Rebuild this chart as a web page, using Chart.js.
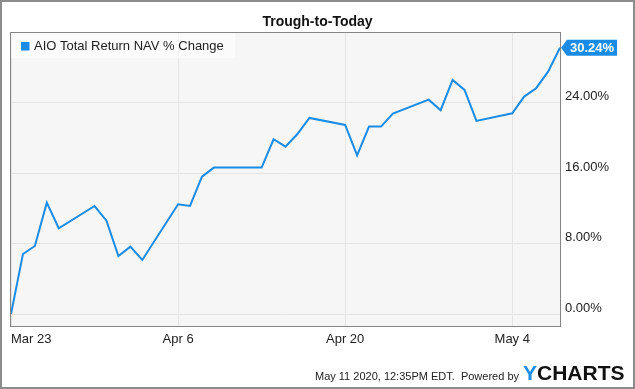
<!DOCTYPE html>
<html>
<head>
<meta charset="utf-8">
<script src="https://cdn.jsdelivr.net/npm/chart.js@4.4.0/dist/chart.umd.min.js"></script>
<style>
  html, body { margin: 0; padding: 0; background: #fff; }
  #wrap { width: 635px; height: 389px; }
</style>
</head>
<body>
<div id="wrap"><canvas id="navChart" width="635" height="389"></canvas></div>
<script>
const chartTitle = 'Trough-to-Today';
const seriesName = 'AIO Total Return NAV % Change';

// trading days, counted in calendar days from Mar 23 2020
const dayOffsets = [0, 1, 2, 3, 4, 7, 8, 9, 10, 11, 14, 15, 16, 17, 21, 22, 23, 24, 25,
                    28, 29, 30, 31, 32, 35, 36, 37, 38, 39, 42, 43, 44, 45, 46];
const navChange = [0, 6.82, 7.73, 12.65, 9.74, 12.27, 10.6, 6.59, 7.65, 6.14, 12.47, 12.27, 15.6, 16.63, 16.63, 19.85, 19.01, 20.45, 22.27,
                   21.48, 18.03, 21.29, 21.29, 22.77, 24.35, 23.15, 26.59, 25.45, 21.93, 22.8, 24.7, 25.65, 27.53, 30.24];

const xTickDays = [0, 14, 28, 42];
const xTickLabels = ['Mar 23', 'Apr 6', 'Apr 20', 'May 4'];
const lastDay = 46;
const yTickValues = [0, 8, 16, 24];
const footerText = 'May 11 2020, 12:35PM EDT.  Powered by';

const FONT = 'Arial, "Liberation Sans", sans-serif';
const lineBlue = '#1a8ce6';
Chart.defaults.font.family = FONT;

const decorations = {
    id: 'decorations',
    beforeDraw(chart) {
        const { ctx, chartArea: a } = chart;
        ctx.save();
        ctx.fillStyle = '#fff';
        ctx.fillRect(0, 0, chart.width, chart.height);
        ctx.fillStyle = '#f6f6f6';
        ctx.fillRect(a.left, a.top, a.right - a.left, a.bottom - a.top);
        ctx.restore();
    },
    beforeDatasetsDraw(chart) {
        const { ctx, chartArea: a } = chart;
        ctx.save();
        ctx.strokeStyle = '#858585';
        ctx.lineWidth = 1;
        ctx.strokeRect(Math.round(a.left) - 0.5, Math.round(a.top) - 0.5,
            Math.round(a.right - a.left) + 1, Math.round(a.bottom - a.top) + 1);
        ctx.restore();
    },
    afterDraw(chart) {
        const { ctx, chartArea: a } = chart;
        ctx.save();

        // title
        ctx.fillStyle = '#111';
        ctx.font = 'bold 14px ' + FONT;
        ctx.textAlign = 'center';
        ctx.textBaseline = 'alphabetic';
        ctx.fillText(chartTitle, chart.width / 2, 25.5);

        // legend inside the plot
        ctx.fillStyle = 'rgba(255,255,255,0.55)';
        ctx.fillRect(a.left, a.top, 224, 25);
        ctx.fillStyle = lineBlue;
        ctx.fillRect(a.left + 10, a.top + 9, 8.5, 8.5);
        ctx.fillStyle = '#222';
        ctx.font = '13px ' + FONT;
        ctx.textAlign = 'left';
        ctx.textBaseline = 'middle';
        ctx.fillText(seriesName, a.left + 23, a.top + 13.5);

        // last value flag
        const last = navChange.length - 1;
        const px = chart.scales.x.getPixelForValue(dayOffsets[last]);
        const py = chart.scales.y.getPixelForValue(navChange[last]);
        const text = navChange[last].toFixed(2) + '%';
        ctx.font = 'bold 13px ' + FONT;
        const w = ctx.measureText(text).width + 6;
        ctx.fillStyle = lineBlue;
        ctx.beginPath();
        ctx.moveTo(px + 1, py);
        ctx.lineTo(px + 7, py - 8);
        ctx.lineTo(px + 7 + w, py - 8);
        ctx.lineTo(px + 7 + w, py + 8);
        ctx.lineTo(px + 7, py + 8);
        ctx.closePath();
        ctx.fill();
        ctx.fillStyle = '#fff';
        ctx.fillText(text, px + 10, py + 0.5);

        // footer + logo
        ctx.fillStyle = '#222';
        ctx.font = '11px ' + FONT;
        ctx.textAlign = 'right';
        ctx.textBaseline = 'alphabetic';
        ctx.fillText(footerText, 519, 380);
        ctx.textAlign = 'left';
        ctx.font = 'bold 21px ' + FONT;
        ctx.fillStyle = '#1a8ce6';
        ctx.fillText('Y', 523, 380);
        const yw = ctx.measureText('Y').width;
        ctx.fillStyle = '#111';
        ctx.fillText('CHARTS', 523 + yw, 380);

        // outer frame
        ctx.strokeStyle = '#8c8c8c';
        ctx.lineWidth = 2;
        ctx.strokeRect(1, 1, chart.width - 2, chart.height - 2);
        ctx.restore();
    }
};

const canvas = document.getElementById('navChart');
new Chart(canvas.getContext('2d'), {
    type: 'line',
    data: {
        datasets: [{
            label: seriesName,
            data: dayOffsets.map((d, i) => ({ x: d, y: navChange[i] })),
            borderColor: lineBlue,
            borderWidth: 2,
            pointRadius: 0,
            tension: 0,
            fill: false
        }]
    },
    options: {
        responsive: false,
        animation: false,
        layout: { padding: { top: 33, left: 11, right: 0, bottom: 0 } },
        plugins: {
            legend: { display: false },
            title: { display: false },
            tooltip: { enabled: false }
        },
        scales: {
            x: {
                type: 'linear',
                min: 0,
                max: lastDay,
                afterBuildTicks: axis => { axis.ticks = xTickDays.concat([lastDay]).map(v => ({ value: v })); },
                afterFit: scale => { scale.height = 63; },
                grid: {
                    color: c => (c.tick && c.tick.value === lastDay) ? 'rgba(0,0,0,0)' : '#e4e4e4',
                    drawTicks: false
                },
                border: { display: false },
                ticks: {
                    align: 'inner',
                    padding: 6,
                    color: '#222',
                    font: { size: 13 },
                    maxRotation: 0,
                    autoSkip: false,
                    callback: v => {
                        const i = xTickDays.indexOf(v);
                        return i >= 0 ? xTickLabels[i] : '';
                    }
                }
            },
            y: {
                position: 'right',
                min: -1.36,
                max: 31.92,
                afterBuildTicks: axis => { axis.ticks = yTickValues.map(v => ({ value: v })); },
                afterFit: scale => { scale.width = 75; },
                grid: { color: '#e4e4e4', drawTicks: false },
                border: { display: false },
                ticks: {
                    padding: 5,
                    labelOffset: -6,
                    color: '#222',
                    font: { size: 13 },
                    callback: v => v.toFixed(2) + '%'
                }
            }
        }
    },
    plugins: [decorations]
});
</script>
</body>
</html>
